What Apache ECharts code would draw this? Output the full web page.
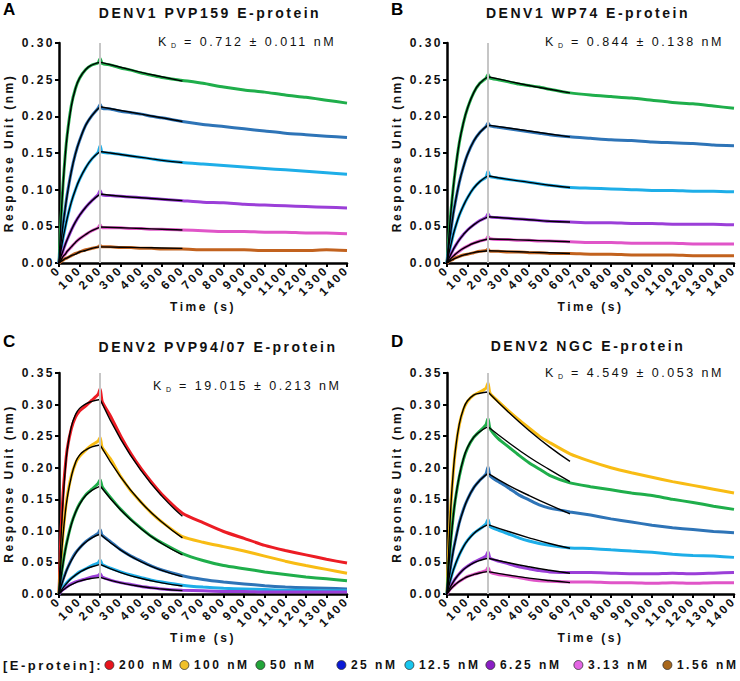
<!DOCTYPE html>
<html><head><meta charset="utf-8">
<script src="https://cdn.jsdelivr.net/npm/echarts@6/dist/echarts.min.js"></script>
<style>
html,body{margin:0;padding:0;background:#fff;}
#chart{width:740px;height:681px;}
#chart text{letter-spacing:2.5px;}
</style></head><body><div id="chart"></div>
<script>
// ---------- data ----------
const TIME = [0,10,20,30,40,60,80,100,130,160,190,200,210,250,300,350,400,450,500,600,700,800,900,1000,1100,1200,1300,1400];
const TIME_FIT = [0,10,20,30,40,60,80,100,130,160,200,300,400,500,600];
const CONC = ['200 nM','100 nM','50 nM','25 nM','12.5 nM','6.25 nM','3.13 nM','1.56 nM'];
const X_MAX = 1400, X_STEP = 100, Y_STEP = 0.05;
const INJECTION_END = 200;

// Panel A: DENV1 PVP159
const A_50  = [0,0.061,0.109,0.146,0.175,0.215,0.238,0.252,0.264,0.270,0.273,0.279,0.272,0.270,0.266,0.263,0.259,0.256,0.253,0.249,0.245,0.240,0.236,0.233,0.229,0.226,0.222,0.218];
const A_50_FIT = [0,0.061,0.108,0.145,0.174,0.214,0.238,0.252,0.264,0.270,0.274,0.267,0.260,0.254,0.248];
const A_25  = [0,0.028,0.053,0.074,0.094,0.125,0.149,0.167,0.188,0.201,0.211,0.216,0.211,0.210,0.207,0.205,0.203,0.200,0.198,0.193,0.189,0.186,0.183,0.180,0.177,0.175,0.173,0.171];
const A_25_FIT = [0,0.028,0.053,0.074,0.093,0.125,0.149,0.167,0.188,0.201,0.213,0.208,0.203,0.198,0.193];
const A_12 = [0,0.018,0.034,0.048,0.061,0.083,0.100,0.114,0.130,0.142,0.151,0.160,0.151,0.150,0.148,0.146,0.144,0.142,0.140,0.137,0.135,0.133,0.131,0.129,0.127,0.125,0.123,0.121];
const A_12_FIT = [0,0.018,0.034,0.048,0.061,0.083,0.100,0.114,0.130,0.142,0.152,0.148,0.144,0.140,0.137];
const A_6  = [0,0.009,0.017,0.025,0.032,0.045,0.056,0.065,0.076,0.085,0.093,0.099,0.093,0.092,0.091,0.090,0.089,0.088,0.087,0.085,0.083,0.082,0.080,0.079,0.078,0.077,0.076,0.075];
const A_6_FIT = [0,0.009,0.017,0.025,0.032,0.045,0.056,0.065,0.076,0.085,0.094,0.091,0.089,0.087,0.085];
const A_3  = [0,0.005,0.009,0.012,0.016,0.022,0.028,0.033,0.039,0.044,0.048,0.052,0.048,0.048,0.048,0.047,0.047,0.046,0.046,0.045,0.044,0.043,0.043,0.042,0.042,0.041,0.041,0.040];
const A_3_FIT = [0,0.004,0.009,0.012,0.016,0.022,0.028,0.033,0.039,0.044,0.049,0.048,0.047,0.046,0.045];
const A_1  = [0,0.002,0.004,0.006,0.007,0.010,0.013,0.015,0.018,0.020,0.022,0.024,0.022,0.022,0.021,0.021,0.020,0.020,0.019,0.019,0.018,0.018,0.018,0.017,0.017,0.017,0.018,0.017];
const A_1_FIT = [0,0.002,0.004,0.006,0.007,0.010,0.012,0.015,0.017,0.020,0.022,0.0215,0.021,0.0205,0.020];

// Panel B: DENV1 WP74
const B_50 = [0,0.039,0.073,0.101,0.125,0.164,0.191,0.211,0.232,0.245,0.252,0.257,0.252,0.250,0.247,0.244,0.242,0.240,0.237,0.232,0.229,0.227,0.225,0.222,0.219,0.217,0.214,0.211];
const B_50_FIT = [0,0.039,0.073,0.101,0.125,0.164,0.191,0.211,0.232,0.245,0.254,0.248,0.242,0.237,0.232];
const B_25 = [0,0.025,0.046,0.066,0.082,0.110,0.131,0.148,0.166,0.178,0.186,0.191,0.187,0.185,0.183,0.181,0.179,0.177,0.175,0.172,0.170,0.168,0.167,0.165,0.164,0.163,0.161,0.160];
const B_25_FIT = [0,0.025,0.046,0.066,0.082,0.110,0.131,0.148,0.166,0.178,0.188,0.184,0.180,0.176,0.172];
const B_12 = [0,0.014,0.026,0.038,0.048,0.065,0.078,0.089,0.102,0.111,0.117,0.125,0.118,0.116,0.114,0.112,0.110,0.108,0.106,0.103,0.102,0.101,0.100,0.099,0.099,0.098,0.098,0.097];
const B_12_FIT = [0,0.014,0.026,0.038,0.048,0.065,0.078,0.089,0.102,0.111,0.119,0.114,0.110,0.106,0.103];
const B_6 = [0,0.007,0.013,0.018,0.023,0.032,0.039,0.045,0.052,0.058,0.062,0.067,0.063,0.062,0.061,0.060,0.059,0.058,0.057,0.056,0.055,0.055,0.054,0.054,0.053,0.053,0.053,0.052];
const B_6_FIT = [0,0.0065,0.0125,0.018,0.023,0.0315,0.0387,0.0448,0.052,0.0576,0.063,0.061,0.059,0.057,0.056];
const B_3 = [0,0.003,0.006,0.009,0.012,0.016,0.020,0.023,0.027,0.030,0.032,0.036,0.033,0.032,0.032,0.031,0.031,0.030,0.030,0.029,0.028,0.028,0.027,0.027,0.027,0.026,0.026,0.026];
const B_3_FIT = [0,0.0034,0.0064,0.0092,0.0118,0.0163,0.020,0.0231,0.0269,0.0298,0.0327,0.032,0.031,0.030,0.029];
const B_1 = [0,0.002,0.004,0.005,0.007,0.009,0.011,0.012,0.014,0.016,0.017,0.019,0.016,0.016,0.015,0.015,0.014,0.014,0.013,0.013,0.012,0.012,0.011,0.011,0.011,0.010,0.010,0.010];
const B_1_FIT = [0,0.0018,0.0035,0.005,0.0064,0.0088,0.0107,0.0123,0.0142,0.0155,0.0168,0.0158,0.0148,0.0139,0.013];

// Panel C: DENV2 PVP94/07
const C_200 = [0,0.100,0.160,0.200,0.230,0.262,0.280,0.290,0.298,0.307,0.316,0.325,0.305,0.282,0.250,0.222,0.198,0.177,0.158,0.128,0.113,0.099,0.088,0.077,0.069,0.062,0.055,0.049];
const C_200_FIT = [0,0.090,0.150,0.195,0.228,0.265,0.284,0.294,0.301,0.305,0.308,0.245,0.195,0.155,0.123];
const C_100 = [0,0.055,0.097,0.130,0.155,0.187,0.207,0.218,0.228,0.236,0.242,0.248,0.232,0.214,0.186,0.163,0.145,0.128,0.114,0.091,0.082,0.075,0.068,0.060,0.052,0.045,0.039,0.033];
const C_100_FIT = [0,0.053,0.094,0.127,0.152,0.186,0.208,0.220,0.228,0.233,0.236,0.185,0.145,0.114,0.089];
const C_50 = [0,0.027,0.050,0.069,0.085,0.111,0.129,0.143,0.157,0.166,0.175,0.181,0.170,0.153,0.134,0.118,0.104,0.091,0.081,0.064,0.053,0.045,0.040,0.035,0.031,0.027,0.024,0.021];
const C_50_FIT = [0,0.026,0.049,0.068,0.084,0.110,0.129,0.142,0.156,0.164,0.171,0.133,0.103,0.080,0.062];
const C_25 = [0,0.012,0.023,0.032,0.040,0.054,0.065,0.073,0.083,0.090,0.096,0.102,0.093,0.083,0.070,0.060,0.052,0.044,0.038,0.029,0.023,0.019,0.016,0.013,0.011,0.010,0.009,0.008];
const C_25_FIT = [0,0.012,0.022,0.031,0.040,0.053,0.064,0.073,0.082,0.089,0.0946,0.0695,0.051,0.0375,0.0275];
const C_12 = [0,0.006,0.010,0.015,0.019,0.025,0.030,0.035,0.040,0.045,0.049,0.054,0.047,0.041,0.035,0.030,0.026,0.022,0.019,0.014,0.011,0.009,0.008,0.007,0.006,0.006,0.005,0.005];
const C_12_FIT = [0,0.0052,0.0098,0.0141,0.0179,0.0245,0.0299,0.0343,0.0396,0.0432,0.047,0.0339,0.0245,0.0176,0.0127];
const C_6 = [0,0.004,0.007,0.009,0.012,0.016,0.019,0.021,0.024,0.027,0.029,0.032,0.027,0.022,0.018,0.015,0.012,0.010,0.008,0.006,0.005,0.004,0.004,0.003,0.003,0.003,0.003,0.003];
const C_6_FIT = [0,0.0033,0.0062,0.0088,0.011,0.0149,0.0179,0.0203,0.0229,0.0247,0.0264,0.0177,0.0118,0.0079,0.0053];

// Panel D: DENV2 NGC
const D_100 = [0,0.085,0.147,0.190,0.225,0.268,0.292,0.305,0.315,0.320,0.326,0.334,0.318,0.305,0.290,0.276,0.263,0.250,0.240,0.222,0.210,0.200,0.192,0.185,0.178,0.172,0.166,0.160];
const D_100_FIT = [0,0.083,0.145,0.191,0.225,0.269,0.293,0.306,0.315,0.318,0.320,0.288,0.259,0.233,0.210];
const D_50 = [0,0.050,0.090,0.122,0.148,0.186,0.213,0.231,0.248,0.258,0.268,0.278,0.262,0.246,0.233,0.220,0.208,0.198,0.188,0.176,0.170,0.165,0.160,0.156,0.150,0.145,0.139,0.134];
const D_50_FIT = [0,0.049,0.088,0.121,0.148,0.187,0.214,0.232,0.248,0.257,0.265,0.240,0.217,0.197,0.178];
const D_25 = [0,0.026,0.048,0.068,0.084,0.113,0.134,0.150,0.168,0.180,0.190,0.201,0.187,0.178,0.168,0.157,0.149,0.141,0.136,0.130,0.125,0.119,0.114,0.109,0.105,0.102,0.099,0.097];
const D_25_FIT = [0,0.025,0.047,0.067,0.083,0.112,0.133,0.150,0.168,0.180,0.191,0.172,0.156,0.141,0.127];
const D_12 = [0,0.014,0.026,0.037,0.046,0.062,0.075,0.085,0.096,0.103,0.111,0.118,0.107,0.101,0.095,0.089,0.084,0.080,0.077,0.073,0.072,0.070,0.068,0.066,0.063,0.061,0.060,0.058];
const D_12_FIT = [0,0.0137,0.0258,0.0366,0.0461,0.0621,0.0747,0.0846,0.0956,0.1032,0.110,0.099,0.089,0.080,0.0724];
const D_6 = [0,0.008,0.014,0.019,0.024,0.032,0.039,0.044,0.050,0.055,0.060,0.067,0.057,0.052,0.048,0.043,0.040,0.037,0.035,0.034,0.034,0.033,0.032,0.032,0.033,0.032,0.033,0.034];
const D_6_FIT = [0,0.007,0.0133,0.0188,0.0237,0.032,0.0385,0.0435,0.0492,0.0531,0.0566,0.0494,0.0431,0.0376,0.0328];
const D_3 = [0,0.005,0.009,0.012,0.015,0.020,0.024,0.028,0.031,0.034,0.037,0.042,0.035,0.031,0.029,0.026,0.023,0.021,0.020,0.019,0.019,0.018,0.018,0.017,0.018,0.017,0.018,0.018];
const D_3_FIT = [0,0.0044,0.0083,0.0118,0.0149,0.020,0.0241,0.0273,0.0308,0.0333,0.0354,0.0299,0.0252,0.0213,0.018];

const PANELS = [
  {letter:'A', title:'DENV1 PVP159 E-protein', kd:'0.712 ± 0.011', yMax:0.30,
   curves:[['50 nM',A_50,A_50_FIT],['25 nM',A_25,A_25_FIT],['12.5 nM',A_12,A_12_FIT],['6.25 nM',A_6,A_6_FIT],['3.13 nM',A_3,A_3_FIT],['1.56 nM',A_1,A_1_FIT]]},
  {letter:'B', title:'DENV1 WP74 E-protein', kd:'0.844 ± 0.138', yMax:0.30,
   curves:[['50 nM',B_50,B_50_FIT],['25 nM',B_25,B_25_FIT],['12.5 nM',B_12,B_12_FIT],['6.25 nM',B_6,B_6_FIT],['3.13 nM',B_3,B_3_FIT],['1.56 nM',B_1,B_1_FIT]]},
  {letter:'C', title:'DENV2 PVP94/07 E-protein', kd:'19.015 ± 0.213', yMax:0.35,
   curves:[['200 nM',C_200,C_200_FIT],['100 nM',C_100,C_100_FIT],['50 nM',C_50,C_50_FIT],['25 nM',C_25,C_25_FIT],['12.5 nM',C_12,C_12_FIT],['6.25 nM',C_6,C_6_FIT]]},
  {letter:'D', title:'DENV2 NGC E-protein', kd:'4.549 ± 0.053', yMax:0.35,
   curves:[['100 nM',D_100,D_100_FIT],['50 nM',D_50,D_50_FIT],['25 nM',D_25,D_25_FIT],['12.5 nM',D_12,D_12_FIT],['6.25 nM',D_6,D_6_FIT],['3.13 nM',D_3,D_3_FIT]]}
];

// ---------- styles / layout ----------
const LINE_COLORS = {'200 nM':'#ec1c24','100 nM':'#f8bc14','50 nM':'#1fae4b','25 nM':'#2e74b7','12.5 nM':'#1eaee8','6.25 nM':'#9b3fd8','3.13 nM':'#e055c8','1.56 nM':'#c2621e'};
const LEGEND_COLORS = ['#e8141c','#f0c02a','#22a53a','#0a1ad6','#18c6ee','#8a1ec4','#e466e4','#a8671c'];
const LEGEND_X = [109,184,260,341,409,490,578,667];
const GRIDS = [
  {left:59, top:43, width:288, height:220},
  {left:447, top:43, width:287, height:220},
  {left:59, top:373, width:288, height:221},
  {left:447, top:373, width:287, height:221}
];
const LABEL_POS = [
  {letter:[3,9], title:[210,13], kd:[158,42]},
  {letter:[391,9], title:[588,13], kd:[545,42]},
  {letter:[3,341], title:[218,347], kd:[153,386]},
  {letter:[391,341], title:[588,346], kd:[545,373]}
];
const FONT = 'Liberation Sans, Arial, sans-serif';
const INK = '#111';

const chart = echarts.init(document.getElementById('chart'), null, {renderer:'svg'});

const grid = [], xAxis = [], yAxis = [], series = [], graphic = [];
PANELS.forEach((p, i) => {
  grid.push(Object.assign({outerBoundsMode:'none', containLabel:false}, GRIDS[i]));
  xAxis.push({
    type:'value', gridIndex:i, min:0, max:X_MAX, interval:X_STEP,
    name:'Time (s)', nameLocation:'middle', nameGap:38,
    nameTextStyle:{fontFamily:FONT, fontSize:12, fontWeight:'bold', color:INK},
    axisLine:{show:true, onZero:false, lineStyle:{color:'#000', width:2.5}},
    axisTick:{show:true, length:4, lineStyle:{color:'#000', width:2}},
    axisLabel:{rotate:45, interval:0, margin:5, fontFamily:FONT, fontSize:12, fontWeight:'bold', color:INK,
      showMinLabel:true, showMaxLabel:true, formatter:v=>String(v)},
    splitLine:{show:false}
  });
  yAxis.push({
    type:'value', gridIndex:i, min:0, max:p.yMax, interval:Y_STEP,
    name:'Response Unit (nm)', nameLocation:'middle', nameGap:44,
    nameTextStyle:{fontFamily:FONT, fontSize:12, fontWeight:'bold', color:INK},
    axisLine:{show:true, lineStyle:{color:'#000', width:2.5}},
    axisTick:{show:true, length:4, lineStyle:{color:'#000', width:2}},
    axisLabel:{margin:4, fontFamily:FONT, fontSize:12, fontWeight:'bold', color:INK, formatter:v=>v.toFixed(2)},
    splitLine:{show:false}
  });
  series.push({
    type:'line', name:'injection end', xAxisIndex:i, yAxisIndex:i, data:[], silent:true, z:1,
    markLine:{silent:true, animation:false, symbol:['none','none'], label:{show:false},
      lineStyle:{color:'#c6c6c6', width:2, type:'solid'}, data:[{xAxis:INJECTION_END}]}
  });
  p.curves.forEach(([name, vals]) => {
    series.push({
      type:'line', name, xAxisIndex:i, yAxisIndex:i, showSymbol:false, smooth:0.2, z:2,
      color:LINE_COLORS[name], lineStyle:{width:3, color:LINE_COLORS[name]},
      data:TIME.map((t,k)=>[t, vals[k]]), animation:false
    });
  });
  p.curves.forEach(([name, , fit]) => {
    const pts = TIME_FIT.map((t,k)=>[t, fit[k]]);
    const cut = TIME_FIT.indexOf(INJECTION_END);
    [pts.slice(0, cut+1), pts.slice(cut)].forEach(seg => {
      series.push({
        type:'line', name:'fit ' + name, xAxisIndex:i, yAxisIndex:i, showSymbol:false, smooth:0.5, z:3,
        lineStyle:{width:1.4, color:'#000'}, color:'#000', data:seg, animation:false, silent:true
      });
    });
  });
  const L = LABEL_POS[i];
  graphic.push({type:'text', x:L.letter[0], y:L.letter[1],
    style:{text:p.letter, fontFamily:FONT, fontSize:17, fontWeight:'bold', fill:'#000', align:'left', verticalAlign:'middle'}});
  graphic.push({type:'text', x:L.title[0], y:L.title[1],
    style:{text:p.title, fontFamily:FONT, fontSize:14, fontWeight:'bold', fill:INK, align:'center', verticalAlign:'middle'}});
  graphic.push({type:'text', x:L.kd[0], y:L.kd[1],
    style:{text:'K', fontFamily:FONT, fontSize:12.5, fill:INK, align:'left', verticalAlign:'middle'}});
  graphic.push({type:'text', x:L.kd[0] + 13, y:L.kd[1] + 3,
    style:{text:'D', fontFamily:FONT, fontSize:7, fill:INK, align:'left', verticalAlign:'middle'}});
  graphic.push({type:'text', x:L.kd[0] + 26, y:L.kd[1],
    style:{text:'= ' + p.kd + ' nM', fontFamily:FONT, fontSize:12.5, fill:INK, align:'left', verticalAlign:'middle'}});
});

graphic.push({type:'text', x:3, y:665,
  style:{text:'[E-protein]:', fontFamily:FONT, fontSize:13, fontWeight:'bold', fill:INK, align:'left', verticalAlign:'middle'}});

const legend = CONC.map((name, i) => ({
  left: LEGEND_X[i] - 4.5, top: 659, padding:0, itemWidth:9, itemHeight:9, selectedMode:false,
  icon:'circle',
  textStyle:{fontFamily:FONT, fontSize:12, fontWeight:'bold', color:INK},
  data:[{name, icon:'circle', itemStyle:{color:LEGEND_COLORS[i], borderColor:'#333', borderWidth:0.8}}]
}));

chart.setOption({
  animation:false,
  backgroundColor:'#fff',
  grid, xAxis, yAxis, series, graphic, legend
});
</script></body></html>
